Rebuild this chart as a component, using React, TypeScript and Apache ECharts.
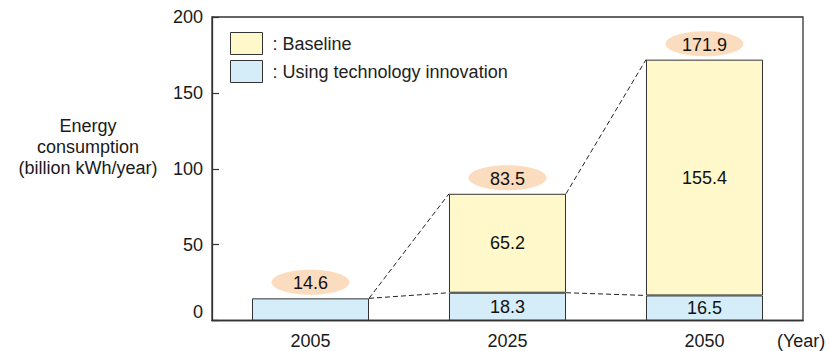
import React, { useEffect, useRef } from "react";
import * as echarts from "echarts";

const years = ["2005", "2025", "2050"];
const techValues = [14.6, 18.3, 16.5];
const baselineExtra: (number | null)[] = [null, 65.2, 155.4];
const yTicks = { min: 0, max: 200, interval: 50 };

const FONT = "'Liberation Sans', Arial, Helvetica, sans-serif";
const YELLOW = "#FFF8CB";
const BLUE = "#D5ECF9";
const PEACH = "#FCDCBE";
const EDGE = "#333333";
const BAR_FRAC = 0.594;

const totals = techValues.map((v, i) => +(v + (baselineExtra[i] ?? 0)).toFixed(1));

export default function App() {
  const ref = useRef<HTMLDivElement>(null);
  useEffect(() => {
    if (!ref.current) return;
    const chart = echarts.init(ref.current, undefined, { renderer: "svg" });

    const connectorData = years.slice(0, -1).map((_, i) => [
      i,
      techValues[i],
      totals[i],
      techValues[i + 1],
      totals[i + 1],
    ]);
    const bubbleData = years.map((_, i) => [i, totals[i]]);

    chart.setOption({
      animation: false,
      textStyle: { fontFamily: FONT },
      grid: {
        left: 212,
        right: 27,
        top: 17,
        bottom: 30.5,
        show: true,
        borderColor: EDGE,
        borderWidth: 1.3,
        backgroundColor: "transparent",
      },
      legend: {
        data: ["Baseline", "Using technology innovation"],
        orient: "vertical",
        left: 230,
        top: 32,
        padding: 0,
        itemWidth: 32,
        itemHeight: 22,
        itemGap: 5,
        icon: "rect",
        itemStyle: { borderColor: EDGE, borderWidth: 1 },
        formatter: ": {name}",
        textStyle: { fontSize: 18, color: "#222", fontFamily: FONT, padding: [0, 0, 0, 5] },
        selectedMode: false,
      },
      xAxis: {
        type: "category",
        data: years,
        axisTick: { show: false },
        axisLine: { lineStyle: { color: EDGE, width: 1.3 } },
        axisLabel: { fontSize: 18, color: "#1a1a1a", margin: 11, fontFamily: FONT },
      },
      yAxis: {
        type: "value",
        min: yTicks.min,
        max: yTicks.max,
        interval: yTicks.interval,
        splitLine: { show: false },
        axisLine: { show: true, lineStyle: { color: EDGE, width: 1.3 } },
        axisTick: { show: true, inside: true, length: 7, lineStyle: { color: EDGE, width: 1.2 } },
        axisLabel: {
          fontSize: 18,
          color: "#1a1a1a",
          margin: 9,
          fontFamily: FONT,
          verticalAlignMinLabel: "bottom",
        },
      },
      graphic: [
        {
          type: "text",
          x: 88,
          y: 147,
          style: {
            text: "Energy\nconsumption\n(billion kWh/year)",
            textAlign: "center",
            textVerticalAlign: "middle",
            fontSize: 18,
            lineHeight: 21,
            fontFamily: FONT,
            fill: "#1a1a1a",
          },
        },
        {
          type: "text",
          x: 777,
          y: 341,
          style: {
            text: "(Year)",
            textAlign: "left",
            textVerticalAlign: "middle",
            fontSize: 18,
            fontFamily: FONT,
            fill: "#1a1a1a",
          },
        },
      ],
      series: [
        {
          name: "Using technology innovation",
          type: "bar",
          stack: "total",
          barWidth: BAR_FRAC * 100 + "%",
          data: techValues,
          itemStyle: { color: BLUE, borderColor: EDGE, borderWidth: 1 },
          label: {
            show: true,
            position: "inside",
            fontSize: 18,
            color: "#111",
            fontFamily: FONT,
            formatter: (p: any) => (p.dataIndex === 0 ? "" : String(p.value)),
          },
          z: 2,
        },
        {
          name: "Baseline",
          type: "bar",
          stack: "total",
          barWidth: BAR_FRAC * 100 + "%",
          data: baselineExtra,
          itemStyle: { color: YELLOW, borderColor: EDGE, borderWidth: 1 },
          label: {
            show: true,
            position: "inside",
            fontSize: 18,
            color: "#111",
            fontFamily: FONT,
          },
          z: 2,
        },
        {
          name: "connectors",
          type: "custom",
          data: connectorData,
          z: 3,
          silent: true,
          renderItem: (params: any, api: any) => {
            const i = api.value(0);
            const half = (api.size([1, 0])[0] * BAR_FRAC) / 2;
            const a1 = api.coord([i, api.value(1)]);
            const a2 = api.coord([i, api.value(2)]);
            const b1 = api.coord([i + 1, api.value(3)]);
            const b2 = api.coord([i + 1, api.value(4)]);
            const ls = { stroke: "#222", lineWidth: 1, lineDash: [5, 3], fill: null };
            return {
              type: "group",
              children: [
                {
                  type: "line",
                  shape: { x1: a1[0] + half, y1: a1[1], x2: b1[0] - half, y2: b1[1] },
                  style: ls,
                },
                {
                  type: "line",
                  shape: { x1: a2[0] + half, y1: a2[1], x2: b2[0] - half, y2: b2[1] },
                  style: ls,
                },
              ],
            };
          },
        },
        {
          name: "totals",
          type: "custom",
          data: bubbleData,
          z: 4,
          silent: true,
          renderItem: (params: any, api: any) => {
            const i = api.value(0);
            const v = api.value(1);
            const p = api.coord([i, v]);
            const cy = p[1] - 16;
            return {
              type: "group",
              children: [
                {
                  type: "ellipse",
                  shape: { cx: p[0], cy, rx: 39, ry: 12.5 },
                  style: { fill: PEACH, stroke: null },
                },
                {
                  type: "text",
                  x: p[0],
                  y: cy + 1,
                  style: {
                    text: v.toFixed(1),
                    textAlign: "center",
                    textVerticalAlign: "middle",
                    align: "center",
                    verticalAlign: "middle",
                    fontSize: 18,
                    fontFamily: FONT,
                    fill: "#111",
                  },
                },
              ],
            };
          },
        },
      ],
    });
    return () => chart.dispose();
  }, []);
  return (
    <div
      ref={ref}
      style={{ position: "fixed", left: 0, top: 0, width: 830, height: 351, background: "#fff" }}
    />
  );
}
